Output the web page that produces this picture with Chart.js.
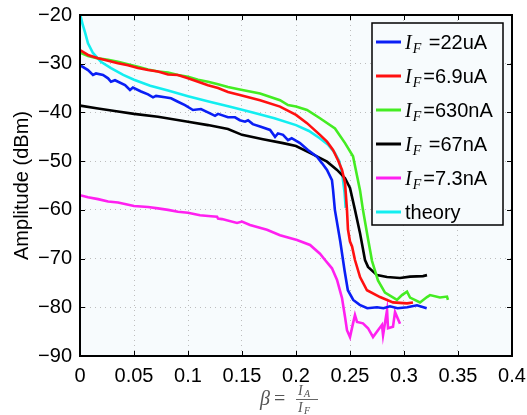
<!DOCTYPE html>
<html><head><meta charset="utf-8">
<script src="https://cdn.jsdelivr.net/npm/chart.js@4/dist/chart.umd.min.js"></script>
<style>html,body{margin:0;padding:0;background:#fff}canvas{display:block}</style>
</head><body>
<canvas id="c" width="527" height="415"></canvas>
<script>
const seriesLabels = ['I_F =22uA', 'I_F=6.9uA', 'I_F=630nA', 'I_F =67nA', 'I_F=7.3nA', 'theory'];
const seriesColors = ['#0a1ef5', '#ff1010', '#44ec22', '#000000', '#ff20f0', '#12eef0'];
const xTickLabels = ['0', '0.05', '0.1', '0.15', '0.2', '0.25', '0.3', '0.35', '0.4'];
const yTickLabels = ['\u221290', '\u221280', '\u221270', '\u221260', '\u221250', '\u221240', '\u221230', '\u221220'];

const beta22uA = [0,0.0074,0.012,0.0148,0.0213,0.026,0.0287,0.0324,0.0417,0.0463,0.049,0.0565,0.063,0.0676,0.0704,0.0787,0.0843,0.0907,0.0972,0.1046,0.112,0.1204,0.125,0.1278,0.137,0.1435,0.148,0.1528,0.1556,0.16,0.1667,0.176,0.1806,0.1833,0.188,0.1926,0.196,0.2037,0.211,0.2194,0.224,0.2287,0.2333,0.2343,0.236,0.241,0.245,0.248,0.253,0.259,0.266,0.275,0.281,0.287,0.294,0.303,0.312,0.321];
const amp22uA = [-30.3,-31.3,-32.3,-32,-32.3,-33,-33.7,-33.4,-34.4,-35.4,-34.9,-35.7,-36.3,-36.9,-36.6,-36.9,-37.1,-37.8,-38.5,-39.5,-39.3,-40.2,-40.7,-40.3,-41,-41,-41.6,-41.9,-41.6,-42.4,-42.9,-43.6,-45,-44.3,-44.6,-45.7,-45.3,-46.3,-47.7,-49.1,-50.4,-51.8,-53.9,-55.9,-60,-66.5,-72.5,-76.5,-78.5,-79.5,-80.2,-80,-80.2,-79.8,-80.2,-80,-79.6,-80.2];

const beta6p9uA = [0,0.0074,0.0167,0.026,0.0352,0.0444,0.0537,0.063,0.0722,0.0815,0.0907,0.1,0.1093,0.1185,0.1278,0.137,0.148,0.1667,0.1852,0.2,0.2102,0.2222,0.2287,0.2343,0.2389,0.2426,0.2454,0.2472,0.2481,0.25,0.2519,0.2546,0.2593,0.2657,0.2778,0.2898,0.3028,0.3083];
const amp6p9uA = [-27.2,-28.2,-28.9,-29.4,-29.9,-30.3,-30.9,-31.3,-31.6,-32.2,-32.3,-33,-33.7,-34.4,-35,-35.8,-36.4,-37.5,-38.8,-40.5,-42.2,-44.6,-46,-47.7,-49.8,-51.8,-54.5,-60,-64,-66.5,-67.5,-70.3,-73.8,-76.5,-77.9,-79,-79.2,-79];

const beta630nA = [0,0.0074,0.0167,0.026,0.0352,0.0444,0.0537,0.063,0.0722,0.0815,0.0907,0.1,0.1093,0.1185,0.1278,0.137,0.148,0.1667,0.1852,0.1926,0.2,0.2102,0.2222,0.2361,0.2454,0.2528,0.2565,0.2593,0.262,0.2667,0.2704,0.2759,0.2824,0.2935,0.2981,0.3028,0.3056,0.3148,0.3213,0.3241,0.3333,0.3398,0.3407];
const amp630nA = [-27.7,-28.4,-28.9,-29.2,-29.6,-30.1,-30.6,-31.2,-31.6,-31.8,-32.3,-32.7,-33.3,-33.7,-34.2,-34.8,-35.3,-36.1,-37.5,-38.5,-38.8,-39.5,-41.2,-43.3,-46.3,-49,-53,-56,-60,-66,-70.5,-74.5,-77,-78.5,-77.5,-76.8,-78,-79,-77.9,-77.5,-78,-77.8,-78.5];

const beta67nA = [0,0.0167,0.0352,0.05,0.0722,0.1,0.1185,0.137,0.15,0.1694,0.188,0.2,0.2157,0.2287,0.238,0.2454,0.25,0.2546,0.2593,0.2639,0.2667,0.275,0.2843,0.2963,0.3056,0.3176,0.3213];
const amp67nA = [-38.6,-39.2,-39.8,-40.3,-40.9,-41.9,-42.6,-43.4,-44.6,-45.5,-46.3,-46.9,-48.6,-50.1,-51.8,-53.5,-55.5,-60,-64.8,-70.3,-71.7,-73.4,-73.8,-74,-73.7,-73.6,-73.4];

const beta7p3nA = [0,0.0074,0.0167,0.026,0.0352,0.05,0.063,0.0722,0.0815,0.0907,0.1,0.1111,0.1213,0.1269,0.1278,0.1315,0.1454,0.15,0.1574,0.1731,0.1852,0.2009,0.213,0.2222,0.2269,0.2333,0.238,0.2426,0.2454,0.2472,0.25,0.2528,0.2546,0.2565,0.262,0.2667,0.2713,0.2759,0.2796,0.2806,0.2843,0.2852,0.2898,0.2917,0.2963];
const amp7p3nA = [-57,-57.4,-57.8,-58.3,-58.5,-59.2,-59.4,-59.7,-60,-60.4,-60.6,-61.1,-61.3,-61.4,-61.8,-61.9,-62.7,-62.4,-63.1,-64.1,-65.2,-66.2,-67.2,-69,-70.3,-72,-74.4,-78.1,-82,-84.7,-86.1,-83.3,-81.6,-83,-83.3,-84.3,-86.1,-84.7,-83.6,-85.7,-80.6,-84.3,-84,-81,-83.4];

const betaTheory = [0.0003,0.0025,0.0046,0.0074,0.012,0.0194,0.0287,0.04,0.05,0.065,0.0815,0.1,0.12,0.14,0.16,0.18,0.2,0.212,0.222,0.23,0.236,0.24,0.243,0.245,0.246];
const ampTheory = [-20,-22,-23.5,-25.8,-27.8,-29.6,-30.9,-32.3,-33.3,-34.5,-35.5,-36.7,-37.8,-38.9,-40,-41.2,-42.6,-43.8,-45.3,-46.7,-48.3,-50,-53,-56.5,-59.6];

const seriesX = [beta22uA, beta6p9uA, beta630nA, beta67nA, beta7p3nA, betaTheory];
const seriesY = [amp22uA, amp6p9uA, amp630nA, amp67nA, amp7p3nA, ampTheory];

const SANS = '"Liberation Sans", Arial, sans-serif';
const SERIF = '"Liberation Serif", "Times New Roman", serif';
const PLOT_BG = '#f7fbfd';

const frame = {
  id: 'frame',
  beforeDraw(chart) {
    const {ctx, chartArea: a} = chart;
    ctx.save();
    ctx.fillStyle = PLOT_BG;
    ctx.fillRect(a.left, a.top, a.right - a.left, a.bottom - a.top);
    ctx.restore();
  },
  afterDatasetsDraw(chart) {
    const {ctx, chartArea: a, scales: {x, y}} = chart;
    ctx.save();
    ctx.strokeStyle = '#000';
    ctx.lineWidth = 1;
    const L = 5;
    ctx.beginPath();
    x.ticks.forEach(t => {
      const p = Math.round(x.getPixelForValue(t.value)) + 0.5;
      ctx.moveTo(p, a.bottom); ctx.lineTo(p, a.bottom - L);
      ctx.moveTo(p, a.top); ctx.lineTo(p, a.top + L);
    });
    y.ticks.forEach(t => {
      const p = Math.round(y.getPixelForValue(t.value)) + 0.5;
      ctx.moveTo(a.left, p); ctx.lineTo(a.left + L, p);
      ctx.moveTo(a.right, p); ctx.lineTo(a.right - L, p);
    });
    ctx.stroke();
    ctx.lineWidth = 2;
    ctx.strokeRect(a.left, a.top, a.right - a.left, a.bottom - a.top);
    ctx.restore();
  },
  afterDraw(chart) {
    const {ctx, chartArea: a} = chart;
    // legend
    const bx = 372, by = 23, bw = 131, bh = 202;
    ctx.save();
    ctx.fillStyle = PLOT_BG;
    ctx.fillRect(bx, by, bw, bh);
    ctx.strokeStyle = '#000';
    ctx.lineWidth = 1.5;
    ctx.strokeRect(bx, by, bw, bh);
    chart.data.datasets.forEach((ds, i) => {
      const cy = by + 19 + i * 34;
      ctx.strokeStyle = ds.borderColor;
      ctx.lineWidth = 3;
      ctx.beginPath(); ctx.moveTo(bx + 4, cy); ctx.lineTo(bx + 29, cy); ctx.stroke();
      ctx.fillStyle = '#000';
      ctx.textBaseline = 'alphabetic';
      let tx = bx + 33;
      let txt = ds.label;
      if (txt.startsWith('I_F')) {
        ctx.font = 'italic 20px ' + SERIF;
        ctx.fillText('I', tx, cy + 7);
        tx += ctx.measureText('I').width + 1;
        ctx.font = 'italic 14px ' + SERIF;
        ctx.fillText('F', tx, cy + 11);
        tx += ctx.measureText('F').width + 2;
        txt = txt.slice(3);
      }
      ctx.font = '20px ' + SANS;
      ctx.fillText(txt, tx, cy + 7);
    });
    // x axis title: beta = I_A / I_F
    const cx = (a.left + a.right) / 2;
    ctx.fillStyle = '#555';
    ctx.strokeStyle = '#555';
    ctx.font = 'italic 20px ' + SERIF;
    ctx.fillText('\u03B2', cx - 36, 405);
    ctx.font = '20px ' + SERIF;
    ctx.fillText('=', cx - 22, 405);
    ctx.font = 'italic 14px ' + SERIF;
    ctx.fillText('I', cx + 2, 395);
    ctx.fillText('I', cx + 2, 412);
    ctx.font = 'italic 10px ' + SERIF;
    ctx.fillText('A', cx + 8, 397);
    ctx.fillText('F', cx + 8, 414);
    ctx.lineWidth = 0.9;
    ctx.beginPath(); ctx.moveTo(cx, 399.5); ctx.lineTo(cx + 22, 399.5); ctx.stroke();
    ctx.restore();
  }
};

const datasets = seriesLabels.map((lab, i) => ({
  label: lab,
  data: seriesX[i].map((b, j) => ({x: b, y: seriesY[i][j]})),
  borderColor: seriesColors[i],
  backgroundColor: seriesColors[i],
  borderWidth: 2.6,
  pointRadius: 0,
  tension: 0,
  fill: false
}));

new Chart(document.getElementById('c'), {
  type: 'line',
  data: {datasets},
  options: {
    responsive: false,
    animation: false,
    devicePixelRatio: 1,
    layout: {padding: {top: 15, right: 15, left: 0, bottom: 0}},
    plugins: {legend: {display: false}, tooltip: {enabled: false}},
    scales: {
      x: {
        type: 'linear', min: 0, max: 0.4,
        ticks: {stepSize: 0.05, color: '#000', font: {family: SANS, size: 20}, padding: 8, maxRotation: 0, autoSkip: false,
          callback: (v, i) => xTickLabels[i]},
        grid: {color: '#bdbdbd', drawTicks: false, lineWidth: 1},
        border: {display: false, dash: [1, 4]},
        afterFit(s) { s.height = 59; s.paddingLeft = 0; s.paddingRight = 0; }
      },
      y: {
        min: -90, max: -20,
        ticks: {stepSize: 10, color: '#000', font: {family: SANS, size: 20}, padding: 8,
          callback: (v, i) => yTickLabels[i]},
        grid: {color: '#bdbdbd', drawTicks: false, lineWidth: 1},
        border: {display: false, dash: [1, 4]},
        title: {display: true, text: 'Amplitude (dBm)', color: '#000', font: {family: SANS, size: 20}, padding: {top: 10, bottom: 0}},
        afterFit(s) { s.width = 80; s.paddingTop = 0; s.paddingBottom = 0; }
      }
    }
  },
  plugins: [frame]
});
</script>
</body></html>
